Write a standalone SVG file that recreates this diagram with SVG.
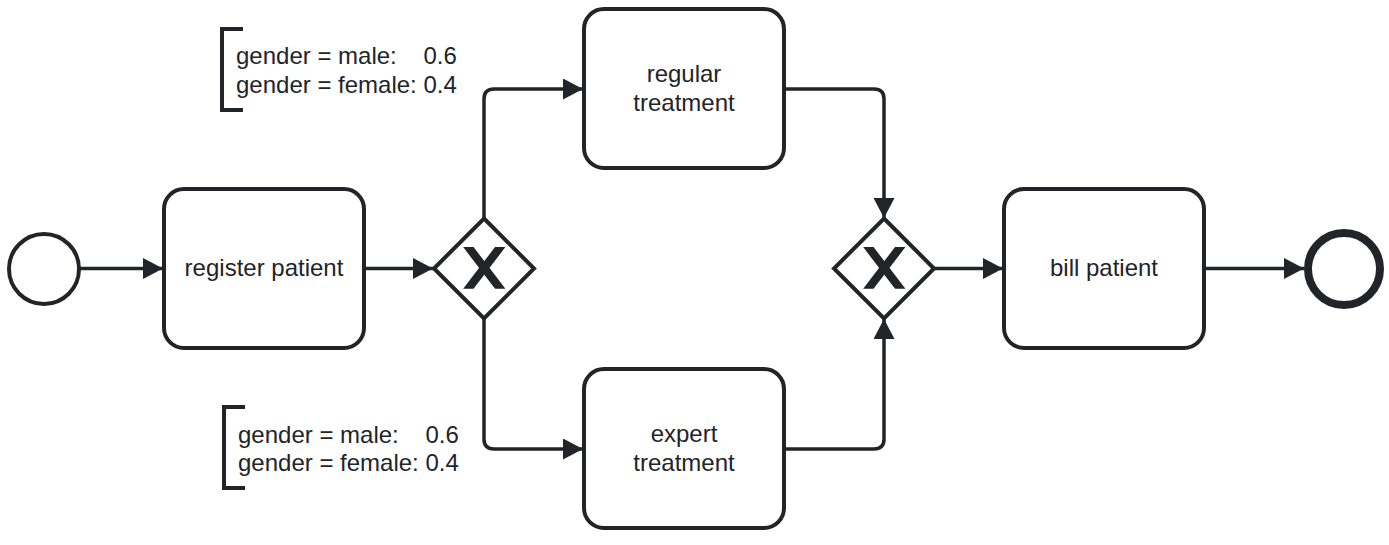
<svg xmlns="http://www.w3.org/2000/svg" width="1389" height="545" viewBox="0 0 1389 545">
<style>
.shape{fill:#ffffff;stroke:#22242a;stroke-width:4}
.flow{fill:none;stroke:#22242a;stroke-width:3.5;stroke-linejoin:round}
.lbl{font-family:"Liberation Sans",Arial,sans-serif;font-size:24px;fill:#22242a}
.mid{text-anchor:middle}
.mark{fill:#22242a;stroke:#22242a;stroke-width:1.4;stroke-linejoin:miter}
</style>
<defs>
<marker id="arr" markerUnits="userSpaceOnUse" markerWidth="22" markerHeight="22" refX="20" refY="10.5" orient="auto">
<path d="M0,0 L20,10.5 L0,21 Z" fill="#22242a"/>
</marker>
</defs>
<rect width="1389" height="545" fill="#ffffff"/>

<g id="connectors">
<path class="flow" d="M80,268.5 L163,268.5" marker-end="url(#arr)"/>
<path class="flow" d="M364,268.5 L433,268.5" marker-end="url(#arr)"/>
<path class="flow" d="M484,218 L484,99 Q484,89 494,89 L583,89" marker-end="url(#arr)"/>
<path class="flow" d="M484,319 L484,439 Q484,449 494,449 L583,449" marker-end="url(#arr)"/>
<path class="flow" d="M784,89 L874,89 Q884,89 884,99 L884,218" marker-end="url(#arr)"/>
<path class="flow" d="M784,449 L874,449 Q884,449 884,439 L884,319" marker-end="url(#arr)"/>
<path class="flow" d="M934,268.5 L1003,268.5" marker-end="url(#arr)"/>
<path class="flow" d="M1204,268.5 L1304,268.5" marker-end="url(#arr)"/>
</g>

<g id="start">
<circle class="shape" cx="44" cy="269" r="35"/>
</g>

<g id="register">
<rect class="shape" x="164" y="189" width="200" height="159" rx="20"/>
<text class="lbl mid" x="264" y="276">register patient</text>
</g>

<g id="gw1">
<path class="shape" d="M484,218.5 L534,268.5 L484,318.5 L434,268.5 Z"/>
<path class="mark" transform="translate(434,218.5) scale(2)" d="m 16,15 7.42857142,9.714285714 -7.42857142,9.714285714 3.428571429,0 5.714285714,-7.464228928 5.714285714,7.464228928 3.428571429,0 -7.42857142,-9.714285714 7.42857142,-9.714285714 -3.428571429,0 -5.714285714,7.464228928 -5.714285714,-7.464228928 -3.428571429,0 z"/>
</g>

<g id="regular">
<rect class="shape" x="584" y="9" width="200" height="159" rx="20"/>
<text class="lbl mid" x="684" y="82">regular</text>
<text class="lbl mid" x="684" y="111">treatment</text>
</g>

<g id="expert">
<rect class="shape" x="584" y="369" width="200" height="159" rx="20"/>
<text class="lbl mid" x="684" y="442">expert</text>
<text class="lbl mid" x="684" y="471">treatment</text>
</g>

<g id="gw2">
<path class="shape" d="M884,218.5 L934,268.5 L884,318.5 L834,268.5 Z"/>
<path class="mark" transform="translate(834,218.5) scale(2)" d="m 16,15 7.42857142,9.714285714 -7.42857142,9.714285714 3.428571429,0 5.714285714,-7.464228928 5.714285714,7.464228928 3.428571429,0 -7.42857142,-9.714285714 7.42857142,-9.714285714 -3.428571429,0 -5.714285714,7.464228928 -5.714285714,-7.464228928 -3.428571429,0 z"/>
</g>

<g id="bill">
<rect class="shape" x="1004" y="189" width="200" height="159" rx="20"/>
<text class="lbl mid" x="1104" y="276">bill patient</text>
</g>

<g id="end">
<circle class="shape" cx="1344" cy="269" r="36" style="stroke-width:8"/>
</g>

<g id="annotation1">
<path d="M243,29 L222,29 L222,110 L243,110" fill="none" stroke="#22242a" stroke-width="4"/>
<text class="lbl" x="236" y="64" xml:space="preserve" style="white-space:pre">gender = male:    0.6</text>
<text class="lbl" x="236" y="93" style="white-space:pre">gender = female: 0.4</text>
</g>

<g id="annotation2">
<path d="M245,407 L224,407 L224,488 L245,488" fill="none" stroke="#22242a" stroke-width="4"/>
<text class="lbl" x="238" y="443" xml:space="preserve" style="white-space:pre">gender = male:    0.6</text>
<text class="lbl" x="238" y="471" style="white-space:pre">gender = female: 0.4</text>
</g>
</svg>
